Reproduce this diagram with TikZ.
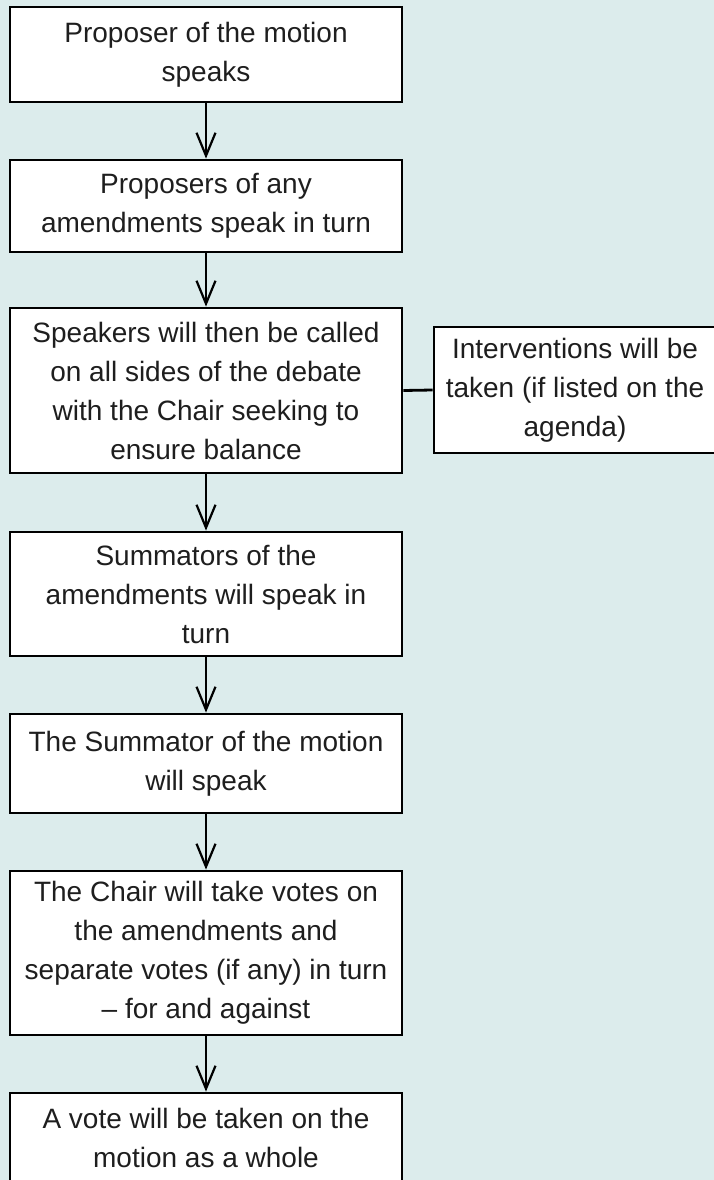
\documentclass[tikz,border=0pt]{standalone}
\usepackage{fontspec}
\setmainfont{Liberation Sans}
\usetikzlibrary{arrows.meta}
\definecolor{bgc}{RGB}{220,236,236}
\definecolor{txtc}{RGB}{30,30,30}
\tikzset{
  box/.style={draw=black, line width=2.8pt, fill=white, align=center,
    font=\fontsize{28}{39}\selectfont, text=txtc, inner sep=0pt},
  arr/.style={draw=black, line width=2.2pt,
    -{Straight Barb[length=23pt,width=19pt,line width=2.2pt]}},
  link/.style={draw=black, line width=2.8pt}
}
\begin{document}
\begin{tikzpicture}[x=1pt,y=1pt]
\useasboundingbox (0,0) rectangle (714,-1180);
\fill[bgc] (0,0) rectangle (714,-1180);
\clip (0,0) rectangle (714,-1180);
\node[box, minimum width=392pt, minimum height=95pt] (b1) at (206,-54.5) {Proposer of the motion\\speaks};
\node[box, minimum width=392pt, minimum height=92pt] (b2) at (206,-206) {Proposers of any\\amendments speak in turn};
\node[box, minimum width=392pt, minimum height=165pt] (b3) at (206,-390.5) {Speakers will then be called\\on all sides of the debate\\with the Chair seeking to\\ensure balance};
\node[box, minimum width=282pt, minimum height=126pt] (iv) at (575,-390) {Interventions will be\\taken (if listed on the\\agenda)};
\node[box, minimum width=392pt, minimum height=124pt] (b4) at (206,-594) {Summators of the\\amendments will speak in\\turn};
\node[box, minimum width=392pt, minimum height=99pt] (b5) at (206,-763.5) {The Summator of the motion\\will speak};
\node[box, minimum width=392pt, minimum height=164pt] (b6) at (206,-953) {The Chair will take votes on\\the amendments and\\separate votes (if any) in turn\\– for and against};
\node[box, minimum width=392pt, minimum height=89pt] (b7) at (206,-1137.5) {A vote will be taken on the\\motion as a whole};
\draw[arr] (b1.south) -- (b2.north);
\draw[arr] (b2.south) -- (b3.north);
\draw[arr] (b3.south) -- (b4.north);
\draw[arr] (b4.south) -- (b5.north);
\draw[arr] (b5.south) -- (b6.north);
\draw[arr] (b6.south) -- (b7.north);
\draw[link] (b3.east) -- (iv.west);
\end{tikzpicture}
\end{document}
